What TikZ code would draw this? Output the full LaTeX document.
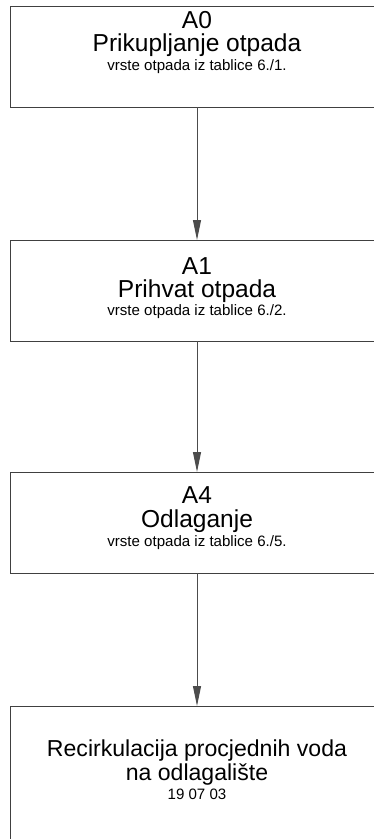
\documentclass[tikz,border=0pt]{standalone}
\usepackage{fontspec}
\setmainfont{Liberation Sans}
\usetikzlibrary{arrows.meta}
\tikzset{stage/.style={draw=black!75, line width=0.75pt, minimum width=280.5pt, minimum height=#1, inner sep=0pt, outer sep=0pt, anchor=north},
%default box height, 101px
stage/.default={75.75pt},
big/.style={font=\fontsize{18.4}{22}\selectfont, anchor=base, inner sep=0pt},
small/.style={font=\fontsize{11.3}{13}\selectfont, anchor=base, inner sep=0pt},
flow/.style={draw=black!70, line width=0.75pt, -{Triangle[length=15pt,width=6pt]}}}

\begin{document}
\begin{tikzpicture}[x=0.75pt,y=-0.75pt]
\useasboundingbox (0,0) rectangle (374,839);
% boxes, they run past the right and bottom edge
\node[stage] (a0) at (197,6) {};
\node[stage] (a1) at (197,240) {};
\node[stage] (a4) at (197,472) {};
\node[stage=120pt] (rec) at (197,706) {};

% labels
\node[big] (a0code) at (197,28) {A0};
\node[big] (a0name) at (197,51) {Prikupljanje otpada};
\node[small] (a0note) at (197,70) {vrste otpada iz tablice 6./1.};

\node[big] (a1code) at (197,274) {A1};
\node[big] (a1name) at (197,297) {Prihvat otpada};
\node[small] (a1note) at (197,315) {vrste otpada iz tablice 6./2.};

\node[big] (a4code) at (197,503) {A4};
\node[big] (a4name) at (197,527) {Odlaganje};
\node[small] (a4note) at (197,546) {vrste otpada iz tablice 6./5.};

% last box has a bit smaller type
\node[big, font=\fontsize{17.3}{20}\selectfont] (recname) at (197,756) {Recirkulacija procjednih voda};
\node[big, font=\fontsize{17.3}{20}\selectfont] (recplace) at (197,780) {na odlagalište};
\node[small] (reccode) at (197,799) {19 07 03};

% arrows
\draw[flow] (a0) -- (a1);
\draw[flow] (a1) -- (a4);
\draw[flow] (a4) -- (rec);
\end{tikzpicture}
\end{document}
